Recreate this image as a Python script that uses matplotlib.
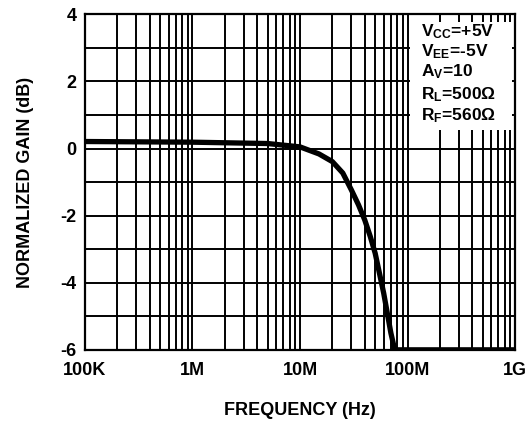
import matplotlib
matplotlib.use('Agg')
import matplotlib.pyplot as plt
from matplotlib.patches import Rectangle
import numpy as np

plt.rcParams['font.family'] = ['Liberation Sans', 'DejaVu Sans']
plt.rcParams['font.weight'] = 'bold'
plt.rcParams['axes.unicode_minus'] = False
plt.rcParams['mathtext.fontset'] = 'custom'
plt.rcParams['mathtext.rm'] = 'Liberation Sans:bold'
plt.rcParams['mathtext.it'] = 'Liberation Sans:bold'
plt.rcParams['mathtext.bf'] = 'Liberation Sans:bold'

# frequency response
freq = [1e5, 1e6, 5e6, 1e7, 1.5e7, 2e7, 2.5e7, 3e7, 3.5e7, 4e7, 4.5e7, 5e7,
        6e7, 7e7, 7.6e7, 1e8, 1e9]
gain = [0.21, 0.19, 0.15, 0.05, -0.16, -0.39, -0.73, -1.23, -1.68, -2.13, -2.62, -3.12,
        -4.31, -5.5, -6.0, -6.0, -6.0]

xticks = [1e5, 1e6, 1e7, 1e8, 1e9]
xticklabels = ['100K', '1M', '10M', '100M', '1G']
yticks = [-6, -4, -2, 0, 2, 4]

notes = ['V$_{CC}$=+5V', 'V$_{EE}$=-5V', 'A$_{V}$=10', 'R$_{L}$=500Ω', 'R$_{F}$=560Ω']
note_y = [0.936, 0.876, 0.814, 0.748, 0.683]

fig = plt.figure(figsize=(5.31, 4.23), dpi=100)
ax = fig.add_axes([0.160, 0.173, 0.810, 0.793])

ax.plot(freq, gain, color='black', linewidth=3.8, solid_capstyle='butt',
        solid_joinstyle='round', zorder=3)

ax.set_xscale('log')
ax.set_xlim(1e5, 1e9)
ax.set_ylim(-6, 4)
ax.set_xticks(xticks)
ax.set_xticklabels(xticklabels)
ax.set_yticks(yticks)
ax.set_yticks(np.arange(-5, 4, 2), minor=True)
ax.tick_params(which='both', length=0)
ax.tick_params(axis='x', pad=9, labelsize=13)
ax.tick_params(axis='y', pad=6, labelsize=13)

ax.grid(True, which='both', color='black', linewidth=1.4)
ax.set_axisbelow(True)
for s in ax.spines.values():
    s.set_linewidth(1.6)

ax.add_patch(Rectangle((0.756, 0.656), 0.237, 0.322, transform=ax.transAxes,
                       facecolor='white', edgecolor='none', zorder=2))
for t, y in zip(notes, note_y):
    ax.text(0.782, y, t, transform=ax.transAxes, fontsize=12.5, fontweight='bold',
            va='baseline', ha='left', zorder=4)

ax.set_xlabel('FREQUENCY (Hz)', fontsize=13, fontweight='bold', labelpad=16)
ax.set_ylabel('NORMALIZED GAIN (dB)', fontsize=13, fontweight='bold', labelpad=19)

fig.savefig('out.png', dpi=100)
